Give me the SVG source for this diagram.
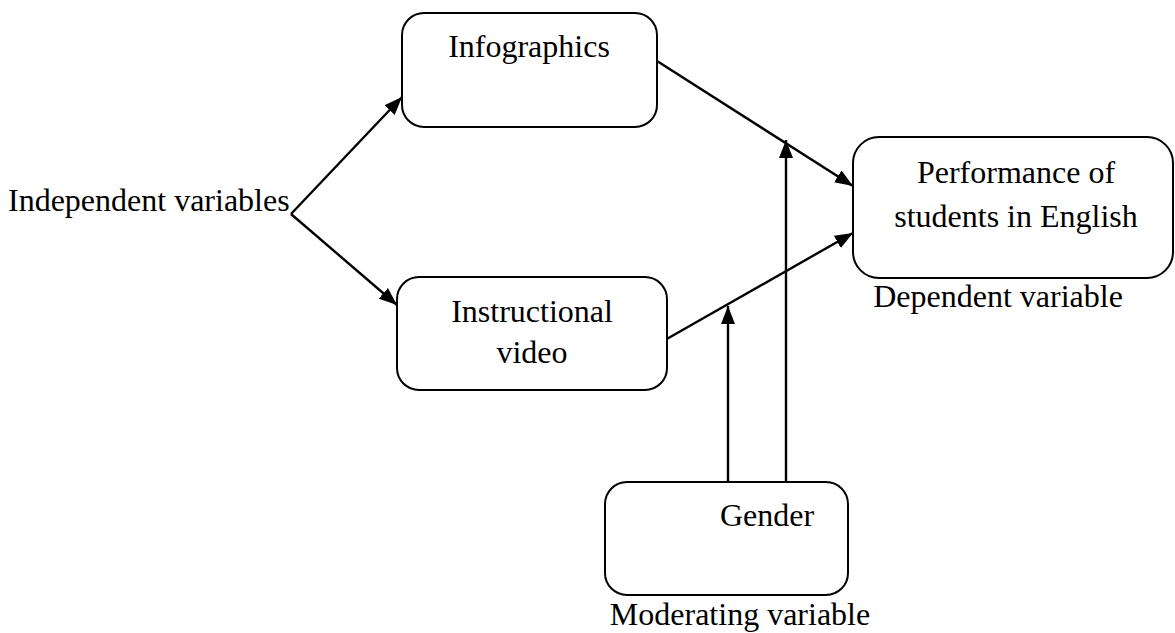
<svg xmlns="http://www.w3.org/2000/svg" width="1175" height="633" viewBox="0 0 1175 633">
<style>
.box{fill:#fff;stroke:#000;stroke-width:2}
.t{font-family:"Liberation Serif","Times New Roman",serif;font-size:32px;fill:#000}
.c{text-anchor:middle}
.ln{stroke:#000;stroke-width:2.4;fill:none;marker-end:url(#ah)}
</style>
<defs>
<marker id="ah" viewBox="0 0 18 14" refX="18" refY="7" markerWidth="18" markerHeight="14" markerUnits="userSpaceOnUse" orient="auto">
<path d="M0,0 L18,7 L0,14 z" fill="#000"/>
</marker>
</defs>
<rect width="1175" height="633" fill="#fff"/>
<g id="connectors">
<line class="ln" x1="291" y1="214" x2="402" y2="97"/>
<line class="ln" x1="291" y1="214" x2="397" y2="305"/>
<line class="ln" x1="657" y1="61" x2="853" y2="186"/>
<line class="ln" x1="665" y1="340" x2="853" y2="233"/>
<line class="ln" x1="786" y1="482" x2="786" y2="140"/>
<line class="ln" x1="728" y1="482" x2="728" y2="306"/>
</g>
<g id="independent">
<text class="t" x="8" y="211">Independent variables</text>
</g>
<g id="infographics">
<rect class="box" x="402" y="13" width="255" height="114" rx="22"/>
<text class="t c" x="529" y="57">Infographics</text>
</g>
<g id="instructional">
<rect class="box" x="397" y="277" width="270" height="113" rx="22"/>
<text class="t c" x="532" y="322">Instructional</text>
<text class="t c" x="532" y="363">video</text>
</g>
<g id="performance">
<rect class="box" x="853" y="137" width="320" height="141" rx="26"/>
<text class="t c" x="1016" y="183">Performance of</text>
<text class="t c" x="1016" y="227">students in English</text>
<text class="t c" x="998" y="307">Dependent variable</text>
</g>
<g id="gender">
<rect class="box" x="605" y="482" width="243" height="113" rx="22"/>
<text class="t c" x="767" y="526">Gender</text>
<text class="t c" x="740" y="625">Moderating variable</text>
</g>
</svg>
